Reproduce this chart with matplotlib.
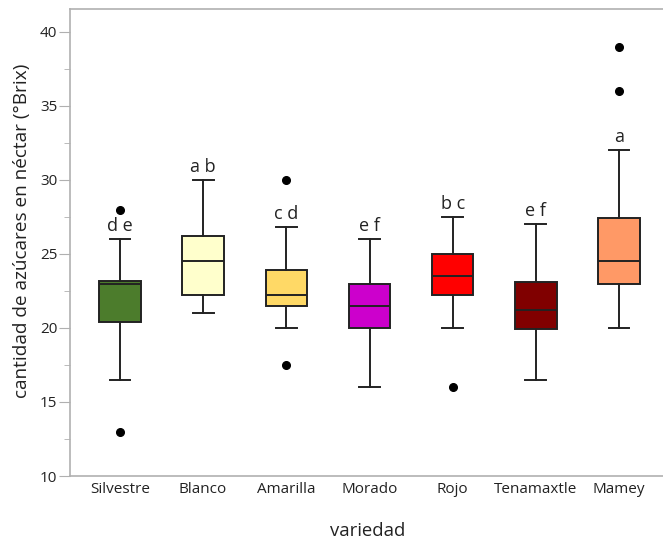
import matplotlib.pyplot as plt

plt.rcParams['font.family'] = ['Open Sans', 'DejaVu Sans']

# Variedades y estadísticos de cada caja (°Brix)
variedades = ["Silvestre", "Blanco", "Amarilla", "Morado", "Rojo", "Tenamaxtle", "Mamey"]
bigote_inf = [16.5, 21.0, 20.0, 16.0, 20.0, 16.5, 20.0]
q1 = [20.4, 22.2, 21.5, 20.0, 22.2, 19.9, 23.0]
mediana = [23.0, 24.5, 22.2, 21.5, 23.5, 21.2, 24.5]
q3 = [23.2, 26.2, 23.9, 23.0, 25.0, 23.1, 27.4]
bigote_sup = [26.0, 30.0, 26.8, 26.0, 27.5, 27.0, 32.0]
atipicos = [[28.0, 13.0], [], [30.0, 17.5], [], [16.0], [], [39.0, 36.0]]
letras = ["d e", "a b", "c d", "e f", "b c", "e f", "a"]
colores = ["#4C7C2C", "#FFFFCC", "#FFD966", "#CC00CC", "#FF0000", "#800000", "#FF9966"]

stats = []
for i, nombre in enumerate(variedades):
    stats.append({
        "label": nombre,
        "whislo": bigote_inf[i],
        "q1": q1[i],
        "med": mediana[i],
        "q3": q3[i],
        "whishi": bigote_sup[i],
        "fliers": atipicos[i],
    })

fig = plt.figure(figsize=(6.63, 5.45), dpi=100)
# el eje se sale un poco por la derecha, sin borde visible
ax = fig.add_axes([70 / 663, 69 / 545, 599 / 663, 467 / 545])

linea = dict(color="#222222", linewidth=1.4)
bp = ax.bxp(stats, positions=range(len(variedades)), widths=0.5, patch_artist=True,
            boxprops=dict(edgecolor="#222222", linewidth=1.4),
            medianprops=linea, whiskerprops=linea, capprops=linea,
            flierprops=dict(marker="o", markerfacecolor="black", markeredgecolor="black",
                            markersize=5.5))
for caja, c in zip(bp["boxes"], colores):
    caja.set_facecolor(c)

# Letras de agrupamiento sobre cada bigote superior
for i, letra in enumerate(letras):
    ax.text(i, bigote_sup[i] + 0.3, letra, ha="center", va="bottom", fontsize=13, color="#222222")

ax.set_xlim(-0.6, 6.6)
ax.set_ylim(10, 41.55)
ax.set_yticks([10, 15, 20, 25, 30, 35, 40])
ax.set_yticks([12.5, 17.5, 22.5, 27.5, 32.5, 37.5], minor=True)
ax.tick_params(axis="y", which="major", length=8, color="#b0b0b0", labelsize=11, labelcolor="#222222", pad=1)
ax.tick_params(axis="y", which="minor", length=4, color="#b0b0b0")
ax.tick_params(axis="x", length=0, labelsize=11, labelcolor="#222222", pad=4)
for lado in ax.spines.values():
    lado.set_color("#b0b0b0")
    lado.set_linewidth(1.2)
ax.spines["right"].set_visible(False)

ax.set_ylabel("cantidad de azúcares en néctar (°Brix)", fontsize=13.7, color="#222222", va="center")
ax.yaxis.set_label_coords(-48 / 599, (476 - 231) / 467)
ax.set_xlabel("variedad", fontsize=13.3, color="#222222", va="center")
ax.xaxis.set_label_coords((368 - 70) / 599, -55 / 467)

fig.savefig("out.png", dpi=100)
